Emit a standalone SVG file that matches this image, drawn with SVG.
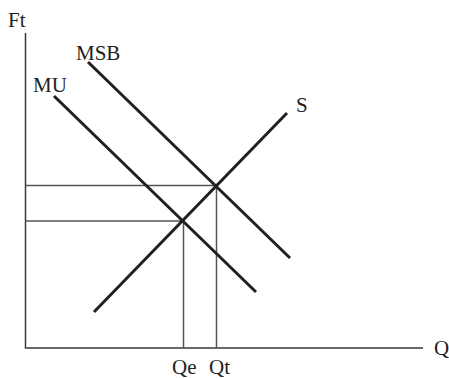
<svg xmlns="http://www.w3.org/2000/svg" width="449" height="378" viewBox="0 0 449 378">
<style>
text{font-family:"Liberation Serif","Times New Roman",serif;font-size:21px;fill:#231f20}
.axis{stroke:#3a3a3a;stroke-width:1.5;fill:none}
.guide{stroke:#555;stroke-width:1.5;fill:none}
.curve{stroke:#231f20;stroke-width:3;fill:none}
</style>
<rect width="449" height="378" fill="#fff"/>
<g id="axes">
<polyline class="axis" points="25.5,33 25.5,348 423,348"/>
</g>
<g id="connectors">
<line class="guide" x1="25.5" y1="185.5" x2="217" y2="185.5"/>
<line class="guide" x1="25.5" y1="221" x2="183.5" y2="221"/>
<line class="guide" x1="183.5" y1="221" x2="183.5" y2="348"/>
<line class="guide" x1="216.5" y1="185.5" x2="216.5" y2="348"/>
<line id="MSB-line" class="curve" x1="88" y1="62" x2="290" y2="258"/>
<line id="MU-line" class="curve" x1="54" y1="96" x2="256" y2="292"/>
<line id="S-line" class="curve" x1="94" y1="312" x2="287" y2="113"/>
</g>
<g id="labels">
<text x="8" y="27">Ft</text>
<text x="76" y="60">MSB</text>
<text x="33" y="92">MU</text>
<text x="296" y="112">S</text>
<text x="434" y="355">Q</text>
<text x="172" y="374">Qe</text>
<text x="209" y="374">Qt</text>
</g>
</svg>
